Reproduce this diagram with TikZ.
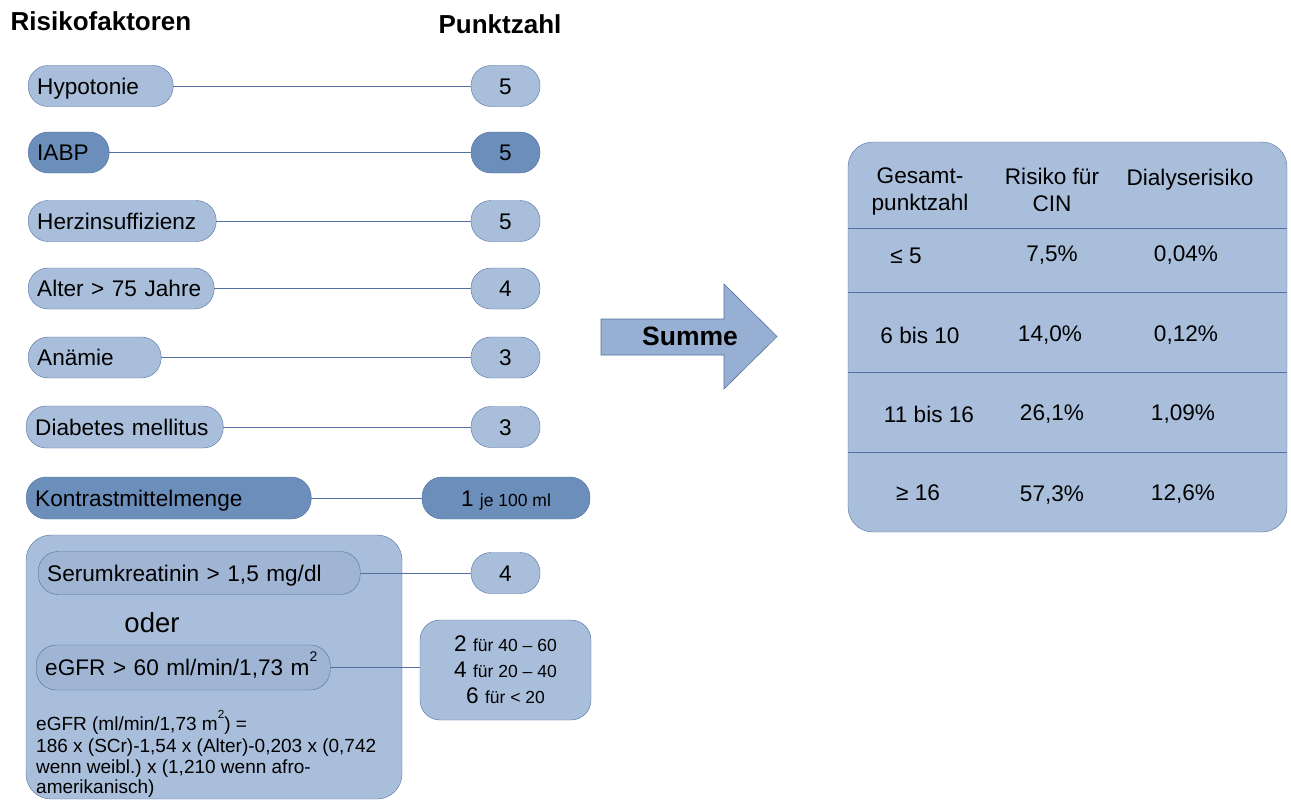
\documentclass[tikz,border=0pt]{standalone}
\usepackage{fontspec}
\setmainfont{Liberation Sans}
\frenchspacing
\definecolor{light}{RGB}{169,190,218}
\definecolor{inner}{RGB}{160,181,212}
\definecolor{dark}{RGB}{108,142,186}
\definecolor{bord}{RGB}{82,112,160}
\definecolor{arrowfill}{RGB}{151,175,210}
\newcommand{\fs}[1]{\fontsize{#1}{#1}\selectfont}
\newcommand{\hisup}[1]{\raisebox{0.62em}{\fontsize{0.62em}{0.62em}\selectfont #1}}
\begin{document}
\begin{tikzpicture}[x=1pt,y=-1pt,
  factor/.style={rounded corners=20pt, draw=bord, fill=light, minimum height=41pt, inner xsep=9pt, inner ysep=0pt, anchor=west, align=left, font=\fs{22.6}, text height=18.2pt, text depth=2pt},
  darkf/.style={factor, fill=dark},
  innerf/.style={factor, fill=inner, minimum height=43pt},
  pts/.style={rounded corners=20pt, draw=bord, fill=light, minimum height=41pt, minimum width=69pt, inner sep=0pt, font=\fs{22.6}, text height=18.2pt, text depth=2pt},
  darkp/.style={pts, fill=dark},
  conn/.style={draw=bord, line width=0.8pt},
  cell/.style={font=\fontsize{22.6}{27}\selectfont, align=center, inner sep=0pt},
  head/.style={font=\bfseries\fs{26}, inner sep=0pt}]
\useasboundingbox (0,0) rectangle (1291,800);

% headers
\node[head] (hrisk) at (101,21) {Risikofaktoren};
\node[head] (hpkt) at (500,24) {Punktzahl};

% factors
\node[factor, text width=127pt] (f1) at (28,86) {Hypotonie};
\node[pts] (p1) at (505.5,86) {5};
\node[darkf, text width=63pt] (f2) at (28,152.5) {IABP};
\node[darkp] (p2) at (505.5,152.5) {5};
\node[factor, text width=170pt] (f3) at (28,221) {Herzinsuffizienz};
\node[pts] (p3) at (505.5,221) {5};
\node[factor, text width=168pt] (f4) at (28,288.5) {Alter > 75 Jahre};
\node[pts] (p4) at (505.5,288.5) {4};
\node[factor, text width=115pt] (f5) at (28,357.5) {Anämie};
\node[pts] (p5) at (505.5,357.5) {3};
\node[factor, text width=179pt, minimum height=42pt] (f6) at (26,427) {Diabetes mellitus};
\node[pts] (p6) at (505.5,427) {3};
\node[darkf, text width=267pt, minimum height=42pt] (f7) at (26,498) {Kontrastmittelmenge};
\node[darkp, minimum width=168pt, minimum height=42pt] (p7) at (506,498) {1 {\fs{17.5}je 100 ml}};

\foreach \i in {1,...,7} {\draw[conn] (f\i.east) -- (p\i.west);}

% big box
\draw[draw=bord, fill=light, rounded corners=25pt] (26,535) rectangle (402,799);
\node[innerf, text width=304pt] (sk) at (38,573) {Serumkreatinin > 1,5 mg/dl};
\node[pts] (p8) at (505.5,573) {4};
\draw[conn] (sk.east) -- (p8.west);
\node[font=\fs{27.5}, inner sep=0pt] (oder) at (152,623) {oder};
\node[innerf, text width=276pt, minimum height=45pt] (eg) at (36,667.5) {eGFR > 60 ml/min/1,73 m\hisup{2}};
\node[draw=bord, fill=light, rounded corners=20pt, minimum width=171pt, minimum height=100pt, inner sep=0pt, align=center, font=\fontsize{22.6}{26}\selectfont] (b246) at (505.5,670)
  {2 {\fs{17.5}für 40 – 60}\\ 4 {\fs{17.5}für 20 – 40}\\ 6 {\fs{17.5}für < 20}};
\draw[conn] (eg.east) -- (eg.east -| b246.west);
\node[anchor=north west, inner sep=0pt, align=left, font=\fontsize{19}{20.5}\selectfont] (formula) at (36,710)
  {eGFR (ml/min/1,73 m\hisup{2}) =\\[2pt]186 x (SCr)-1,54 x (Alter)-0,203 x (0,742\\wenn weibl.) x (1,210 wenn afro-\\amerikanisch)};

% arrow
\draw[draw=bord, fill=arrowfill, line width=0.6pt] (601,319) -- (724,319) -- (724,284) -- (777,336.5) -- (724,389) -- (724,355) -- (601,355) -- cycle;
\node[font=\bfseries\fs{26.5}, inner sep=0pt] (summe) at (690,336) {Summe};

% table
\draw[draw=bord, fill=light, rounded corners=25pt] (848,142) rectangle (1287,532);
\foreach \yy in {228,292,372,452} {\draw[conn] (848,\yy) -- (1287,\yy);}
\node[cell] (h1) at (920,191) {Gesamt-\\punktzahl};
\node[cell] (h2) at (1052,190) {Risiko für\\CIN};
\node[cell] (h3) at (1190,180) {Dialyserisiko};
\node[cell] (a1) at (906,256) {≤ 5};
\node[cell] (a2) at (1052,255) {7,5\%};
\node[cell] (a3) at (1186,255) {0,04\%};
\node[cell] (b1) at (920,335) {6 bis 10};
\node[cell] (b2) at (1050,335) {14,0\%};
\node[cell] (b3) at (1186,335) {0,12\%};
\node[cell] (c1) at (929,414) {11 bis 16};
\node[cell] (c2) at (1052,414) {26,1\%};
\node[cell] (c3) at (1183,414) {1,09\%};
\node[cell] (d1) at (918,493) {≥ 16};
\node[cell] (d2) at (1052,495) {57,3\%};
\node[cell] (d3) at (1183,494) {12,6\%};
\end{tikzpicture}
\end{document}
